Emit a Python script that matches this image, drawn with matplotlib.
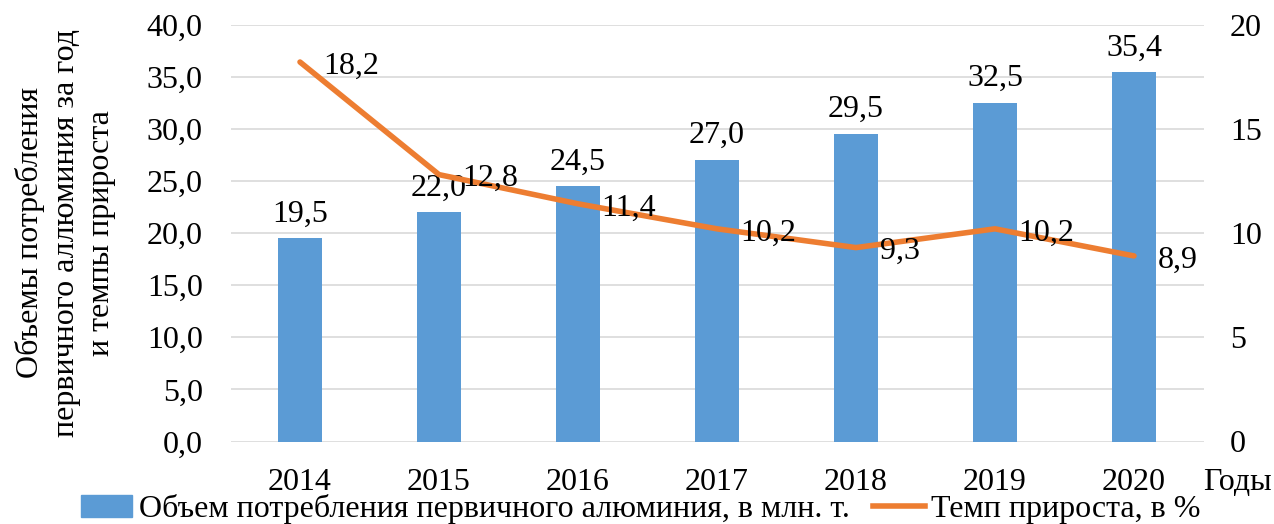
import matplotlib.pyplot as plt
import numpy as np
from matplotlib.patches import Patch
from matplotlib.lines import Line2D

years = ['2014', '2015', '2016', '2017', '2018', '2019', '2020']
volume = [19.5, 22.0, 24.5, 27.0, 29.5, 32.5, 35.4]
growth = [18.2, 12.8, 11.4, 10.2, 9.3, 10.2, 8.9]

left_ticks = [0, 5, 10, 15, 20, 25, 30, 35, 40]
right_ticks = [0, 5, 10, 15, 20]

plt.rcParams['font.family'] = ['Liberation Serif', 'DejaVu Serif']
FS = 23


def comma(v, fmt='{:.1f}'):
    return fmt.format(v).replace('.', ',')


fig = plt.figure(figsize=(12.74, 5.24), dpi=100)
ax = fig.add_axes([230.5 / 1274, 1 - 441.5 / 524, 973 / 1274, 417 / 524])
ax2 = ax.twinx()

x = np.arange(len(years))
ax.bar(x, volume, width=0.317, color='#5B9BD5', zorder=2)
for xi, v in zip(x, volume):
    ax.annotate(comma(v), (xi, v), xytext=(0, 7), textcoords='offset points',
                ha='center', va='bottom', fontsize=FS)

ax2.plot(x, growth, color='#ED7D31', linewidth=4, solid_capstyle='round', zorder=3)
for xi, v in zip(x, growth):
    ax2.annotate(comma(v), (xi, v), xytext=(17, -3), textcoords='offset points',
                 ha='left', va='center', fontsize=FS)

ax.set_xlim(-0.5, len(years) - 0.5)
ax.set_ylim(0, 40)
ax2.set_ylim(0, 20)
ax.set_yticks(left_ticks)
ax.set_yticklabels([comma(t) for t in left_ticks], fontsize=FS)
ax2.set_yticks(right_ticks)
ax2.set_yticklabels([str(t) for t in right_ticks], fontsize=FS)
ax.set_xticks(x)
ax.set_xticklabels(years, fontsize=FS)

ax.grid(axis='y', color='#D9D9D9', linewidth=1.2, zorder=0)
ax.set_axisbelow(True)
for a in (ax, ax2):
    for s in a.spines.values():
        s.set_visible(False)
    a.tick_params(length=0)
ax.tick_params(axis='y', pad=20)
ax2.tick_params(axis='y', pad=19)
ax.tick_params(axis='x', pad=19)

ax.set_ylabel('Объемы потребления\nпервичного аллюминия за год\nи темпы прироста',
              fontsize=FS, labelpad=22, linespacing=1.3)

fig.text(1237 / 1274, 1 - 482 / 524, 'Годы', fontsize=FS, ha='center', va='center')

handles = [Patch(color='#5B9BD5'), Line2D([0], [0], color='#ED7D31', linewidth=4)]
labels = ['Объем потребления первичного алюминия, в млн. т.', 'Темп прироста, в %']
fig.legend(handles, labels, loc='center', bbox_to_anchor=(0.503, 1 - 509 / 524),
           ncol=2, frameon=False, fontsize=FS, handlelength=1.6, handletextpad=0.2,
           columnspacing=0.75, borderpad=0)

fig.savefig('out.png', dpi=100)
